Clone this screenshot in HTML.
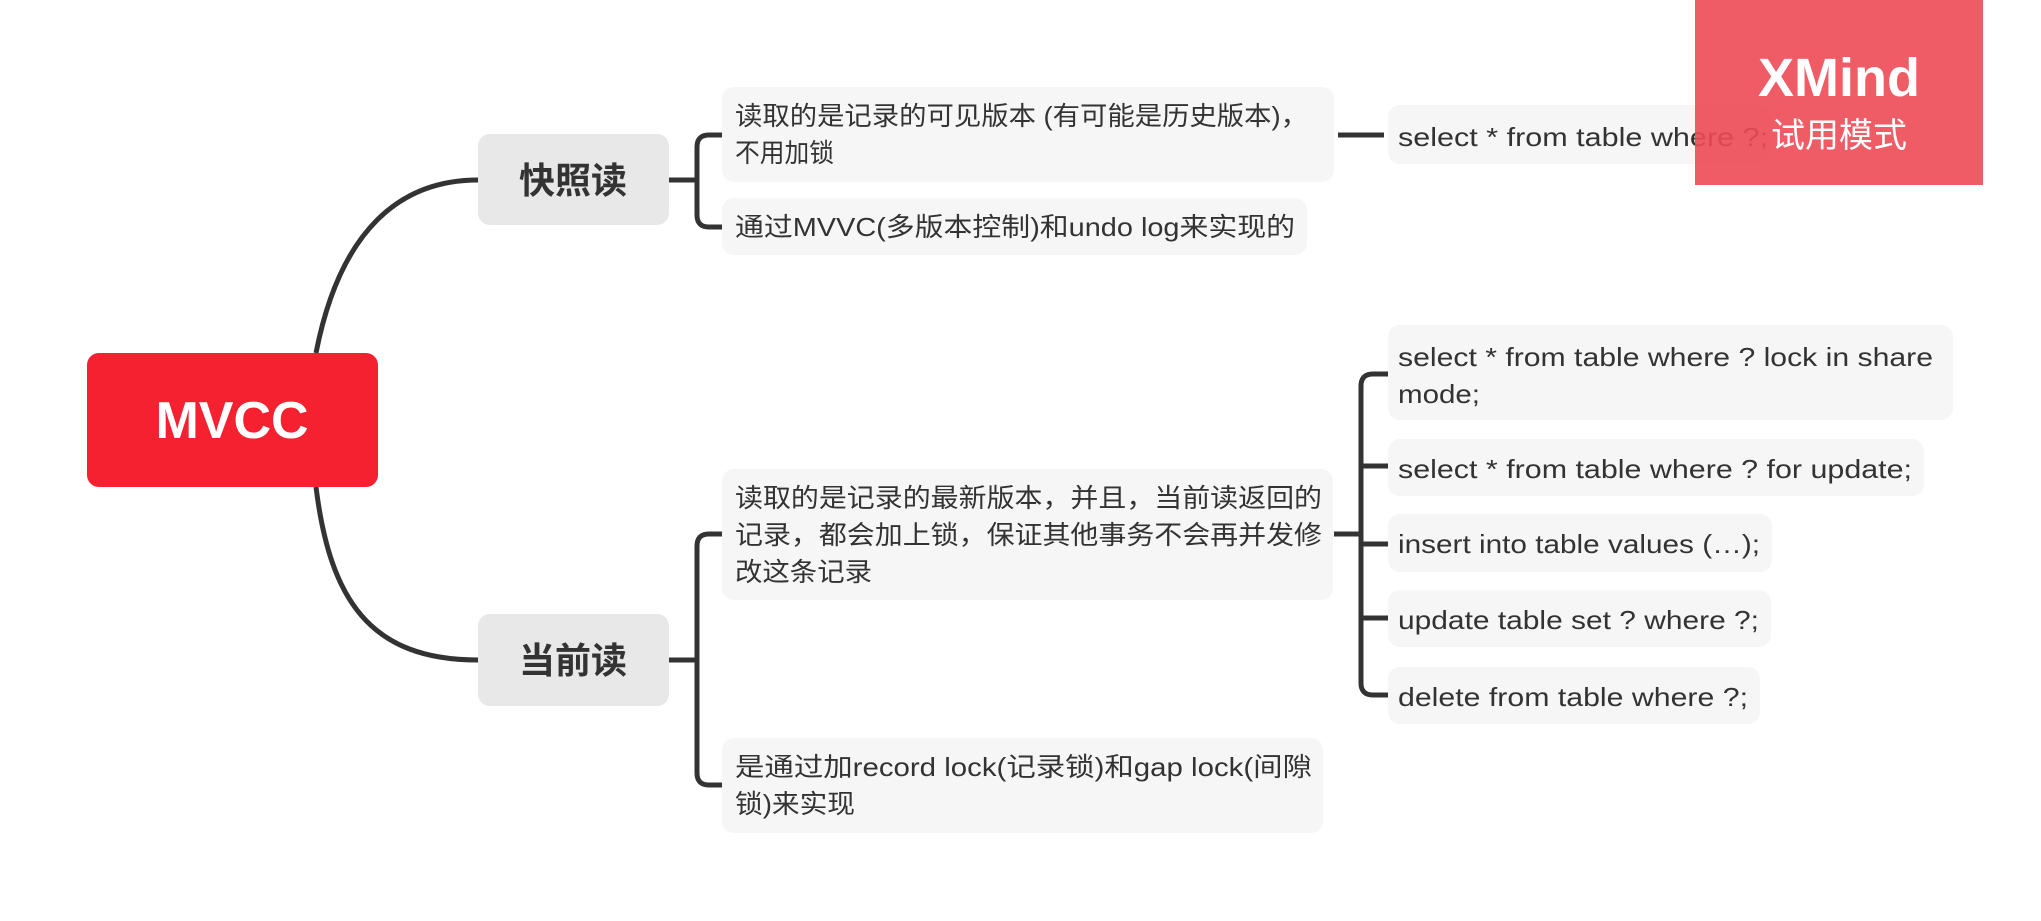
<!DOCTYPE html>
<html><head><meta charset="utf-8"><style>
html,body{margin:0;padding:0;background:#fff;}
svg{display:block;}
text{font-family:"Liberation Sans","Noto Sans CJK SC",sans-serif;fill:#333;}
</style></head><body>
<svg width="2041" height="921" viewBox="0 0 2041 921" xmlns="http://www.w3.org/2000/svg">
<g fill="none" stroke="#333" stroke-width="5" stroke-linecap="butt">
<path d="M316 353 C340 230 400 180 478 180"/>
<path d="M316 487 C330 600 370 660 478 660"/>
<path d="M669 180 H697"/>
<path d="M722 135 H709 Q697 135 697 147 V215 Q697 227 709 227 H722"/>
<path d="M1338 135 H1384"/>
<path d="M669 660 H697"/>
<path d="M722 534 H709 Q697 534 697 546 V773 Q697 785 709 785 H722"/>
<path d="M1334 534 H1361"/>
<path d="M1388 374 H1373 Q1361 374 1361 386 V683 Q1361 695 1373 695 H1388"/>
<path d="M1361 466 H1388 M1361 544 H1388 M1361 618 H1388"/>
</g>
<rect x="87" y="353" width="291" height="134" rx="12" fill="#f52130"/>
<text x="232" y="438" text-anchor="middle" font-size="52" font-weight="bold" style="fill:#fff">MVCC</text>
<rect x="478" y="134" width="191" height="91" rx="12" fill="#e8e8e8"/>
<text x="573" y="193" text-anchor="middle" font-size="36" font-weight="bold">快照读</text>
<rect x="478" y="614" width="191" height="92" rx="12" fill="#e8e8e8"/>
<text x="573" y="673" text-anchor="middle" font-size="36" font-weight="bold">当前读</text>
<g fill="#f6f6f6">
<rect x="722" y="87" width="612" height="95" rx="12"/>
<rect x="722" y="198" width="585" height="57" rx="12"/>
<rect x="1388" y="105" width="382" height="59" rx="12"/>
<rect x="722" y="469" width="611" height="131" rx="12"/>
<rect x="722" y="738" width="601" height="95" rx="12"/>
<rect x="1388" y="325" width="565" height="95" rx="12"/>
<rect x="1388" y="439" width="536" height="57" rx="12"/>
<rect x="1388" y="514" width="384" height="58" rx="12"/>
<rect x="1388" y="590" width="383" height="57" rx="12"/>
<rect x="1388" y="667" width="372" height="57" rx="12"/>
</g>
<g font-size="26" lengthAdjust="spacingAndGlyphs">
<text x="735" y="125" textLength="573" lengthAdjust="spacingAndGlyphs">读取的是记录的可见版本 (有可能是历史版本)，</text>
<text x="735" y="162" textLength="99" lengthAdjust="spacingAndGlyphs">不用加锁</text>
<text x="735" y="236" textLength="560" lengthAdjust="spacingAndGlyphs">通过MVVC(多版本控制)和undo log来实现的</text>
<text x="1398" y="146" textLength="370" lengthAdjust="spacingAndGlyphs">select * from table where ?;</text>
<text x="735" y="507" textLength="587" lengthAdjust="spacingAndGlyphs">读取的是记录的最新版本，并且，当前读返回的</text>
<text x="735" y="544" textLength="587" lengthAdjust="spacingAndGlyphs">记录，都会加上锁，保证其他事务不会再并发修</text>
<text x="735" y="581" textLength="137" lengthAdjust="spacingAndGlyphs">改这条记录</text>
<text x="735" y="776" textLength="577" lengthAdjust="spacingAndGlyphs">是通过加record lock(记录锁)和gap lock(间隙</text>
<text x="735" y="813" textLength="120" lengthAdjust="spacingAndGlyphs">锁)来实现</text>
<text x="1398" y="366" textLength="535" lengthAdjust="spacingAndGlyphs">select * from table where ? lock in share</text>
<text x="1398" y="403" textLength="82" lengthAdjust="spacingAndGlyphs">mode;</text>
<text x="1398" y="478" textLength="514" lengthAdjust="spacingAndGlyphs">select * from table where ? for update;</text>
<text x="1398" y="553" textLength="362" lengthAdjust="spacingAndGlyphs">insert into table values (…);</text>
<text x="1398" y="629" textLength="361" lengthAdjust="spacingAndGlyphs">update table set ? where ?;</text>
<text x="1398" y="706" textLength="350" lengthAdjust="spacingAndGlyphs">delete from table where ?;</text>
</g>
<rect x="1695" y="0" width="288" height="185" fill="#ee4a55" fill-opacity="0.9"/>
<text x="1839" y="96" text-anchor="middle" font-size="54" font-weight="bold" style="fill:#fff">XMind</text>
<text x="1839" y="147" text-anchor="middle" font-size="34" style="fill:#fff">试用模式</text>
</svg>
</body></html>
